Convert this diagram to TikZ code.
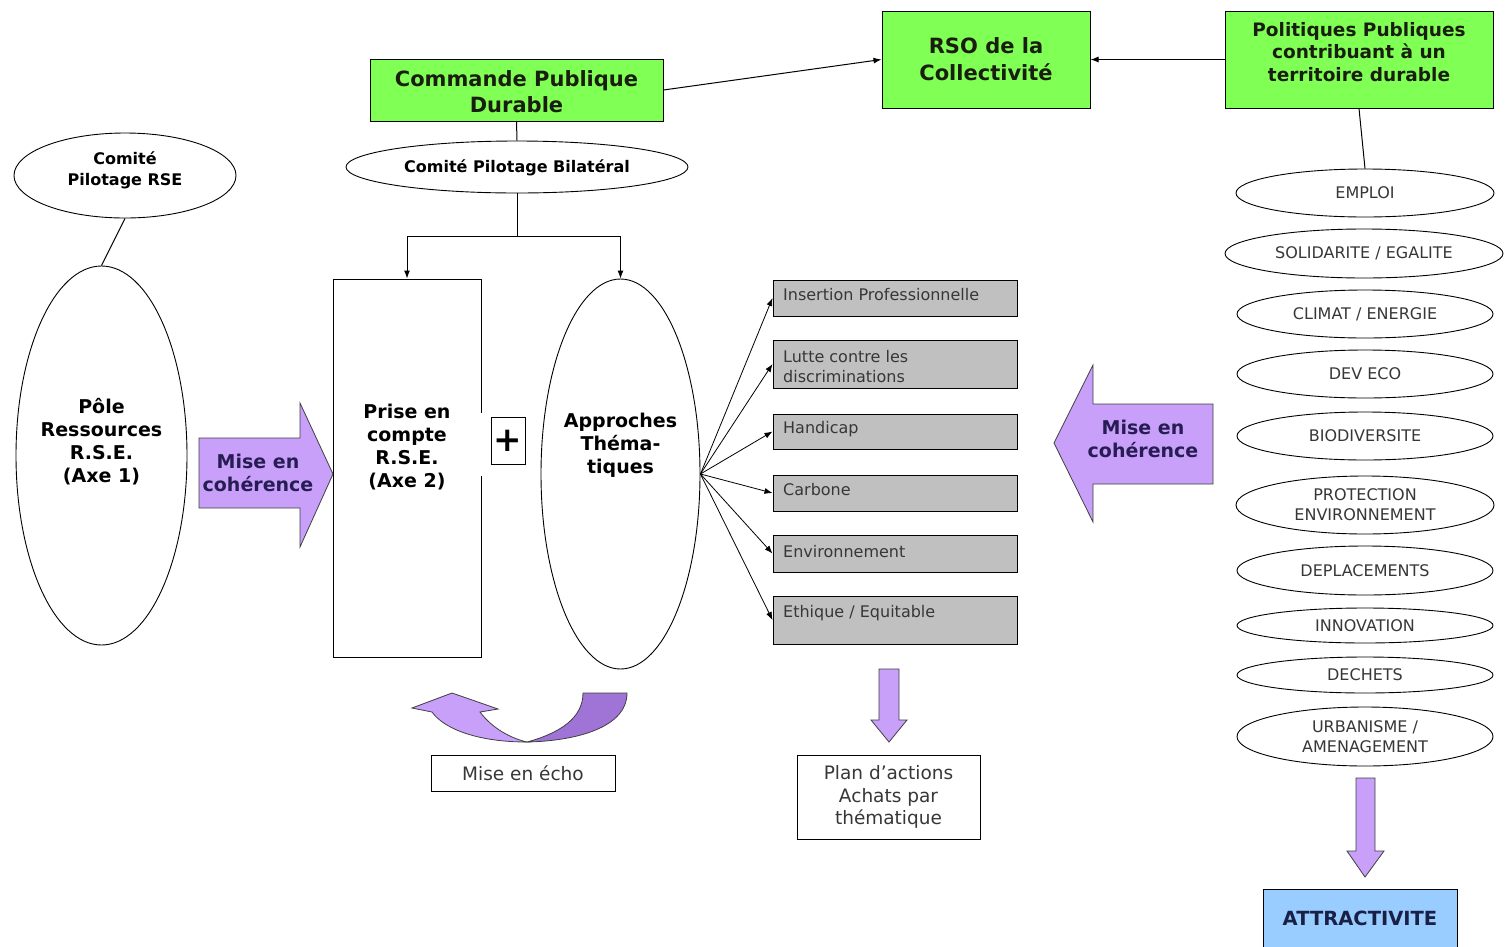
\documentclass[tikz,border=0pt]{standalone}
\usepackage{fontspec}
\setmainfont{DejaVu Sans}
\usetikzlibrary{shapes.geometric,arrows.meta}
\definecolor{grn}{RGB}{128,255,85}
\definecolor{purp}{RGB}{200,160,250}
\definecolor{purpdark}{RGB}{160,115,215}
\definecolor{gboxc}{RGB}{192,192,192}
\definecolor{bluec}{RGB}{153,204,255}
\definecolor{ptxt}{RGB}{40,28,85}
\definecolor{navy}{RGB}{25,32,70}
\definecolor{darktxt}{RGB}{25,30,15}
\definecolor{graytxt}{RGB}{55,55,55}
\newcommand{\fsz}[2]{\fontsize{#1}{#2}\selectfont}
\tikzset{
  box/.style={draw, line width=1pt, inner sep=0pt, align=center},
  greenbox/.style={box, fill=grn, text=darktxt, font=\bfseries\fsz{21}{26}},
  ell/.style={draw, ellipse, line width=0.9pt, inner sep=0pt, align=center},
  colell/.style={ell, text=graytxt, font=\fsz{16}{20}},
  graybox/.style={box, fill=gboxc, minimum width=244pt},
  graytext/.style={inner sep=0pt, anchor=west, align=left, text=graytxt, font=\fsz{16}{20}},
  boldtext/.style={inner sep=0pt, align=center, font=\bfseries\fsz{19}{23}},
  con/.style={line width=1pt},
  arr/.style={con, -{Latex[length=8pt,width=6pt]}},
  parrow/.style={draw=black!75, line width=0.8pt, fill=purp},
  ptext/.style={inner sep=0pt, align=center, text=ptxt, font=\bfseries\fsz{19}{23}},
}
\begin{document}
\begin{tikzpicture}[x=1pt,y=-1pt]
\clip (0,0) rectangle (1505,946);
\fill[white] (0,0) rectangle (1505,946);

% top green boxes
\node[greenbox, minimum width=293pt, minimum height=62pt] (cpd) at (516.5,90) {};
\node[inner sep=0pt, align=center, text=darktxt, font=\bfseries\fsz{21}{26}] (cpdt) at (516.5,92) {Commande Publique\\Durable};
\node[greenbox, minimum width=208pt, minimum height=97pt, font=\bfseries\fsz{21}{27}] (rso) at (986,59.5) {RSO de la\\Collectivité};
\node[greenbox, minimum width=268pt, minimum height=97pt] (pp) at (1359,59.5) {};
\node[inner sep=0pt, align=center, text=darktxt, font=\bfseries\fsz{18.5}{22.5}] (ppt) at (1359,52) {Politiques Publiques\\contribuant à un\\territoire durable};

\draw[arr] (cpd.east) -- (rso.west);
\draw[arr] (pp.west) -- (rso.east);

% comités
\node[ell, minimum width=342pt, minimum height=52pt, font=\bfseries\fsz{16}{21}] (cpb) at (517,167) {};
\node[inner sep=0pt, font=\bfseries\fsz{16}{21}] (cpbt) at (517,168) {Comité Pilotage Bilatéral};
\draw[con] (cpd.south) -- (cpb.north);
\node[ell, minimum width=222pt, minimum height=85pt] (crse) at (125,175.5) {};
\node[inner sep=0pt, align=center, font=\bfseries\fsz{16}{21}] (crset) at (125,170.5) {Comité\\Pilotage RSE};

% left column
\node[ell, minimum width=171pt, minimum height=379pt] (pole) at (101.5,455.5) {};
\node[boldtext] (polet) at (101.5,442) {Pôle\\Ressources\\R.S.E.\\(Axe 1)};
\draw[con] (crse.south) -- (pole.north);

\node[box, minimum width=148pt, minimum height=378pt] (prise) at (407,468) {};
\node[boldtext] (priset) at (407,447) {Prise en\\compte\\R.S.E.\\(Axe 2)};
\fill[white] (478,413) rectangle (486,476);
\node[box, minimum width=34pt, minimum height=47pt, font=\bfseries\fsz{34}{34}] (plus) at (508,440.5) {+};

\node[ell, minimum width=159pt, minimum height=390pt] (appr) at (620.5,474) {};
\node[boldtext] (apprt) at (620.5,445) {Approches\\Théma-\\tiques};

\draw[con] (cpb.south) -- ++(0,43) coordinate (split);
\draw[arr] (split) -| (prise.north);
\draw[arr] (split) -| (appr.north);

% mise en cohérence (right-pointing)
\draw[parrow] (199,438) -- (300,438) -- (300,403) -- (333,474) -- (300,547) -- (300,508) -- (199,508) -- cycle;
\node[ptext] (mc1) at (258,472.5) {Mise en\\cohérence};

% gray theme boxes
\node[graybox, minimum height=36pt] (ins) at (895,298) {};
\node[graybox, minimum height=48pt] (lut) at (895,364) {};
\node[graybox, minimum height=35pt] (han) at (895,431.5) {};
\node[graybox, minimum height=36pt] (car) at (895,493) {};
\node[graybox, minimum height=37pt] (env) at (895,553.5) {};
\node[graybox, minimum height=48pt] (eth) at (895,620) {};
\node[graytext] (t1) at (783,294.5) {Insertion Professionnelle};
\node[graytext] (t2) at (783,366.5) {Lutte contre les\\discriminations};
\node[graytext] (t3) at (783,429) {Handicap};
\node[graytext] (t4) at (783,490) {Carbone};
\node[graytext] (t5) at (783,552) {Environnement};
\node[graytext] (t6) at (783,613) {Ethique / Equitable};
\foreach \b in {ins,lut,han,car,env,eth}
  \draw[arr, line width=0.8pt] (appr.east) -- (\b.west);

% down arrow to plan d'actions
\draw[parrow] (879,669) -- (899,669) -- (899,720) -- (907,720) -- (889,742) -- (871,720) -- (879,720) -- cycle;
\node[box, minimum width=183pt, minimum height=84pt, text=graytxt, font=\fsz{18.5}{22.5}] (plan) at (888.5,797) {Plan d’actions\\Achats par\\thématique};

% mise en écho
\draw[draw=black!75, line width=0.8pt, fill=purpdark] (583,693) -- (627,693) .. controls (627,728) and (575,741) .. (527,742) .. controls (560,733) and (583,718) .. (583,693) -- cycle;
\draw[parrow] (527,742) .. controls (480,742) and (445,730) .. (432,712) -- (412,708) -- (452,693) -- (498,709) -- (480,712) .. controls (492,728) and (510,738) .. (527,742) -- cycle;
\node[box, minimum width=184pt, minimum height=36pt, text=graytxt, font=\fsz{18.5}{22.5}] (echo) at (523,773) {Mise en écho};

% mise en cohérence (left-pointing)
\draw[parrow] (1213,404) -- (1093,404) -- (1093,365) -- (1054,443) -- (1093,522) -- (1093,484) -- (1213,484) -- cycle;
\node[ptext] (mc2) at (1143,438.5) {Mise en\\cohérence};

% right column
\node[colell, minimum width=258pt, minimum height=48pt] (emploi) at (1365,193) {EMPLOI};
\node[colell, minimum width=278pt, minimum height=49pt] (solid) at (1364,253.5) {SOLIDARITE / EGALITE};
\node[colell, minimum width=256pt, minimum height=48pt] (climat) at (1365,314) {CLIMAT / ENERGIE};
\node[colell, minimum width=256pt, minimum height=48pt] (deveco) at (1365,374) {DEV ECO};
\node[colell, minimum width=256pt, minimum height=48pt] (bio) at (1365,436) {BIODIVERSITE};
\node[colell, minimum width=258pt, minimum height=58pt] (prot) at (1365,505) {PROTECTION\\ENVIRONNEMENT};
\node[colell, minimum width=256pt, minimum height=49pt] (depl) at (1365,570.5) {DEPLACEMENTS};
\node[colell, minimum width=256pt, minimum height=35pt] (innov) at (1365,625.5) {INNOVATION};
\node[colell, minimum width=256pt, minimum height=36pt] (dech) at (1365,675) {DECHETS};
\node[colell, minimum width=256pt, minimum height=59pt] (urba) at (1365,736.5) {URBANISME /\\AMENAGEMENT};
\draw[con] (pp.south) -- (emploi.north);

\draw[parrow] (1356,778) -- (1375,778) -- (1375,851) -- (1384,851) -- (1365,877) -- (1347,851) -- (1356,851) -- cycle;
\node[box, fill=bluec, minimum width=194pt, minimum height=90pt, anchor=north] (attr) at (1360,889) {};
\node[inner sep=0pt, text=navy, font=\bfseries\fsz{19.5}{23}] (attrt) at (1360,918) {ATTRACTIVITE};
\end{tikzpicture}
\end{document}
